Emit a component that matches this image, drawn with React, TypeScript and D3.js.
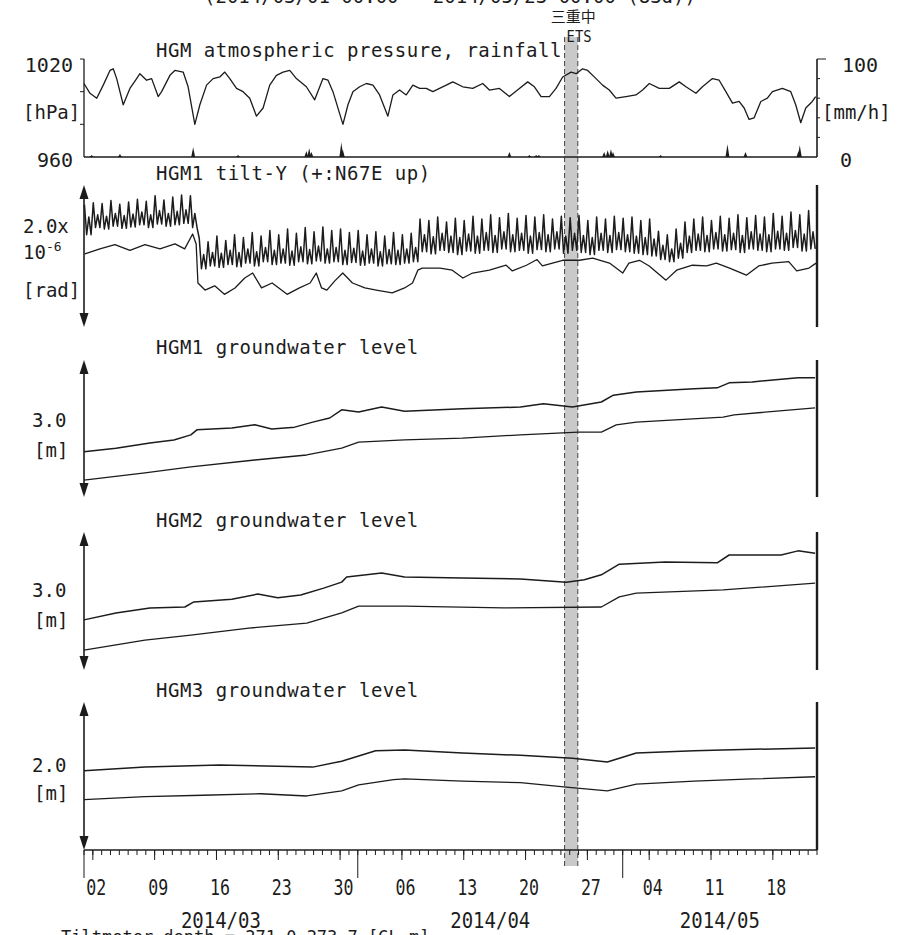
import React from "react";
import * as d3 from "d3";

const START = Date.UTC(2014, 2, 1);
const END = Date.UTC(2014, 4, 23);
const DAY = 86400000;

// ---------- data (day offsets from 2014/03/01 00:00) ----------
const pressureDays = [0, 0.68, 1.44, 2.18, 2.94, 3.31, 3.7, 4.44, 5.2, 5.96, 6.33, 7.09, 7.66, 8.4, 8.79, 9.73, 10.29, 11.23, 11.79, 12.55, 13.12, 13.88, 14.62, 15.38, 15.94, 16.51, 17.27, 18.01, 18.77, 19.53, 20.28, 21.03, 21.79, 22.54, 23.3, 24.05, 25.18, 26.12, 27.06, 27.63, 28.19, 29.32, 29.89, 30.45, 31.21, 31.97, 32.72, 33.47, 34.41, 34.98, 35.73, 36.49, 37.24, 38.0, 38.75, 39.5, 40.26, 41.02, 41.76, 42.89, 44.02, 45.15, 45.91, 47.04, 48.17, 49.3, 50.24, 51.0, 51.76, 52.7, 53.45, 54.2, 55.15, 55.72, 56.46, 57.03, 57.98, 58.72, 59.48, 60.24, 61.37, 62.5, 63.25, 64.01, 65.14, 66.27, 67.4, 68.16, 69.29, 70.03, 71.16, 71.92, 72.68, 73.43, 74.18, 74.75, 75.31, 75.88, 76.64, 77.38, 77.95, 79.08, 80.03, 80.59, 81.16, 81.73, 82.47, 82.85];
const pressureHPa = [1005, 999, 996, 1004, 1013, 1014, 1008, 992, 1002, 1008, 1011, 1007, 1008, 997, 1000, 1010, 1013, 1012, 1003, 980, 992, 1004, 1008, 1009, 1012, 1008, 1002, 1000, 996, 985, 990, 1004, 1010, 1012, 1013, 1008, 1003, 995, 1008, 1007, 1000, 980, 992, 1000, 1003, 1005, 1004, 998, 985, 998, 1001, 998, 1004, 1002, 1002, 1000, 1002, 1004, 1006, 1003, 1002, 1005, 1001, 1002, 997, 1002, 1006, 1003, 997, 997, 1002, 1009, 1012, 1011, 1014, 1013, 1008, 1004, 1001, 996, 997, 998, 1001, 1005, 1002, 1002, 1006, 1003, 999, 1003, 1008, 1007, 1000, 993, 994, 990, 983, 984, 994, 996, 1000, 1002, 1000, 992, 981, 990, 994, 997];

const rainDays = [0.87, 4.07, 12.36, 17.45, 25.18, 25.5, 25.75, 29.14, 29.3, 48.17, 50.43, 51.2, 51.5, 58.9, 59.3, 59.67, 59.9, 65.3, 72.86, 74.9, 80.9, 81.05];
const rainMmH = [2, 3, 10, 2, 6, 9, 5, 15, 8, 5, 2, 2, 2, 5, 7, 8, 5, 2, 13, 5, 6, 12];

// tilt-Y raw trace: per-day main peak / trough / secondary peak (x10^-6 rad, relative)
const tiltHigh = [1.72, 1.75, 1.74, 1.78, 1.73, 1.76, 1.8, 1.77, 1.85, 1.79, 1.83, 1.86, 1.85,
  1.25, 1.2, 1.28, 1.22, 1.3, 1.26, 1.33, 1.28, 1.36, 1.3, 1.38, 1.32, 1.4, 1.34, 1.41, 1.36, 1.38, 1.33, 1.36, 1.3, 1.34, 1.28, 1.33, 1.3, 1.32,
  1.52, 1.5, 1.55, 1.48, 1.53, 1.5, 1.56, 1.52, 1.58, 1.54, 1.6, 1.53, 1.57, 1.55, 1.58, 1.52, 1.56, 1.54, 1.57, 1.5, 1.55, 1.52, 1.56, 1.53, 1.55, 1.5, 1.52,
  1.35, 1.3, 1.38,
  1.48, 1.52, 1.55, 1.5, 1.56, 1.53, 1.58, 1.54, 1.57, 1.55, 1.6, 1.56, 1.62, 1.58, 1.64];
const tiltLow = [1.3, 1.4, 1.38, 1.42, 1.39, 1.41, 1.44, 1.4, 1.45, 1.42, 1.44, 1.46, 1.4,
  0.82, 0.86, 0.84, 0.88, 0.85, 0.9, 0.86, 0.92, 0.88, 0.9, 0.87, 0.92, 0.89, 0.93, 0.9, 0.92, 0.88, 0.91, 0.87, 0.9, 0.86, 0.89, 0.88, 0.9, 0.92,
  1.06, 1.03, 1.08, 1.05, 1.02, 1.07, 1.04, 1.08, 1.05, 1.1, 1.06, 1.08, 1.04, 1.09, 1.06, 1.1, 1.04, 1.08, 1.05, 1.02, 1.08, 1.05, 1.09, 1.06, 1.04, 1.02, 1.0,
  0.95, 0.92, 0.97,
  1.05, 1.08, 1.06, 1.1, 1.07, 1.09, 1.05, 1.1, 1.08, 1.06, 1.1, 1.08, 1.12, 1.07, 1.1];
const tiltMid = [1.55, 1.58, 1.56, 1.6, 1.57, 1.59, 1.62, 1.58, 1.64, 1.6, 1.63, 1.65, 1.6,
  1.02, 1.05, 1.04, 1.08, 1.05, 1.1, 1.06, 1.12, 1.08, 1.1, 1.07, 1.13, 1.09, 1.14, 1.1, 1.12, 1.08, 1.11, 1.07, 1.1, 1.06, 1.09, 1.08, 1.1, 1.12,
  1.3, 1.27, 1.32, 1.28, 1.26, 1.31, 1.28, 1.33, 1.29, 1.34, 1.3, 1.32, 1.28, 1.33, 1.3, 1.34, 1.28, 1.32, 1.29, 1.26, 1.32, 1.29, 1.33, 1.3, 1.28, 1.26, 1.24,
  1.15, 1.1, 1.18,
  1.28, 1.31, 1.29, 1.33, 1.3, 1.32, 1.29, 1.34, 1.31, 1.3, 1.35, 1.32, 1.36, 1.31, 1.34];

// tilt-Y corrected trace
const tiltCorrDays = [0.1, 1.8, 3.5, 5.2, 6.9, 8.6, 10.3, 11.4, 12.3, 12.7, 12.9, 13.7, 14.8, 15.9, 17.1, 18.2, 19.1, 20.1, 21.3, 23.0, 24.4, 25.6, 26.3, 26.9, 27.5, 28.4, 29.3, 30.4, 31.8, 33.1, 34.9, 36.3, 37.2, 37.8, 38.3, 40.3, 41.7, 42.9, 44.0, 45.9, 47.8, 48.5, 50.1, 51.3, 51.9, 54.2, 56.1, 57.6, 59.5, 61.0, 61.7, 62.9, 64.0, 65.9, 67.1, 68.9, 70.5, 71.6, 73.1, 75.0, 76.4, 77.9, 79.8, 80.7, 82.1, 82.9];
const tiltCorrVals = [1.03, 1.1, 1.16, 1.08, 1.16, 1.1, 1.17, 1.1, 1.31, 1.17, 0.62, 0.52, 0.58, 0.46, 0.55, 0.69, 0.76, 0.55, 0.62, 0.46, 0.55, 0.62, 0.76, 0.55, 0.52, 0.65, 0.76, 0.62, 0.55, 0.52, 0.48, 0.55, 0.62, 0.8, 0.83, 0.83, 0.8, 0.69, 0.76, 0.8, 0.87, 0.79, 0.87, 0.95, 0.86, 0.94, 0.94, 0.97, 0.9, 0.76, 0.9, 0.94, 0.86, 0.66, 0.8, 0.87, 0.86, 0.9, 0.83, 0.73, 0.86, 0.9, 0.92, 0.79, 0.83, 0.9];

// groundwater levels [m, relative]
const gw1RawDays = [0, 3.62, 7.46, 10.18, 12.1, 12.78, 16.74, 19.34, 21.26, 23.86, 25.9, 27.82, 29.18, 31.1, 33.7, 36.3, 42.86, 49.42, 52.02, 55.3, 58.58, 59.94, 62.54, 69.09, 71.7, 73.05, 75.65, 80.85, 82.78];
const gw1RawVals = [0.99, 1.07, 1.18, 1.25, 1.36, 1.47, 1.51, 1.58, 1.49, 1.53, 1.64, 1.73, 1.91, 1.86, 1.97, 1.88, 1.93, 1.97, 2.04, 1.97, 2.08, 2.23, 2.3, 2.37, 2.39, 2.5, 2.52, 2.61, 2.61];
const gw1CorrDays = [0, 6.9, 12.1, 19.34, 25.22, 29.18, 31.1, 36.3, 42.86, 49.42, 55.98, 58.58, 60.27, 62.54, 72.37, 73.62, 82.78];
const gw1CorrVals = [0.37, 0.53, 0.66, 0.81, 0.92, 1.07, 1.2, 1.25, 1.29, 1.36, 1.42, 1.42, 1.58, 1.64, 1.75, 1.8, 1.95];

const gw2RawDays = [0, 3.62, 7.46, 11.42, 12.44, 16.74, 19.68, 21.94, 24.54, 27.14, 29.18, 29.74, 33.7, 36.3, 42.86, 49.42, 54.62, 56.66, 58.58, 60.61, 65.82, 71.7, 73.05, 78.93, 80.85, 82.78];
const gw2RawVals = [1.09, 1.24, 1.35, 1.37, 1.48, 1.54, 1.65, 1.57, 1.63, 1.78, 1.91, 2.02, 2.11, 2.02, 2.0, 1.98, 1.91, 1.96, 2.07, 2.3, 2.35, 2.33, 2.5, 2.5, 2.59, 2.54];
const gw2CorrDays = [0, 6.9, 12.1, 18.66, 25.22, 29.18, 31.1, 36.3, 47.5, 58.58, 60.61, 62.54, 72.37, 82.78];
const gw2CorrVals = [0.43, 0.65, 0.76, 0.91, 1.02, 1.24, 1.39, 1.39, 1.35, 1.37, 1.59, 1.67, 1.74, 1.89];

const gw3RawDays = [0, 6.9, 15.38, 25.9, 29.18, 33.02, 36.3, 42.86, 49.42, 55.3, 59.26, 62.54, 69.09, 75.65, 82.78];
const gw3RawVals = [1.07, 1.12, 1.15, 1.12, 1.2, 1.34, 1.35, 1.31, 1.28, 1.24, 1.19, 1.31, 1.34, 1.36, 1.38];
const gw3CorrDays = [0, 6.9, 13.46, 20.02, 25.22, 29.18, 31.1, 35.06, 36.3, 42.86, 49.42, 54.62, 59.26, 62.54, 69.09, 75.65, 82.78];
const gw3CorrVals = [0.68, 0.72, 0.74, 0.76, 0.73, 0.8, 0.88, 0.95, 0.96, 0.93, 0.91, 0.85, 0.8, 0.89, 0.93, 0.96, 0.99];

const panelTitles = ["HGM1 tilt-Y (+:N67E up)", "HGM1 groundwater level", "HGM2 groundwater level", "HGM3 groundwater level"];
const panelScales = [2.0, 3.0, 3.0, 2.0];

const etsStart = Date.UTC(2014, 3, 24, 10);
const etsEnd = Date.UTC(2014, 3, 25, 22);

// ---------- layout ----------
const W = 908, H = 935;
const X0 = 84, X1 = 817;
const INK = "#1c1c1c";
const MONO = "'DejaVu Sans Mono', monospace";

const toDate = (d: number) => new Date(START + d * DAY);

export default function App() {
  const x = d3.scaleUtc().domain([new Date(START), new Date(END)]).range([X0, X1]);

  // top panel
  const topY0 = 59, topY1 = 157;
  const yP = d3.scaleLinear().domain([960, 1020]).range([topY1, topY0]);
  const yR = d3.scaleLinear().domain([0, 100]).range([topY1, topY0]);
  const pLine = d3.line<[number, number]>().x(d => x(toDate(d[0]))).y(d => yP(d[1]));
  const pressurePath = pLine(pressureDays.map((d, i) => [d, pressureHPa[i]] as [number, number])) || "";
  const rainArea = d3.area<[number, number]>().x(d => x(toDate(d[0]))).y0(topY1).y1(d => yR(d[1]));

  // sub panels
  const panels = [
    { top: 185, bot: 327 },
    { top: 360, bot: 497 },
    { top: 532, bot: 670 },
    { top: 702, bot: 850 },
  ];
  const tiltRaw: [number, number][] = tiltHigh.flatMap((h, i) => [
    [i + 0.05, h], [i + 0.3, tiltLow[i]], [i + 0.55, tiltMid[i]], [i + 0.8, tiltLow[i]],
  ] as [number, number][]);
  const series: [number, number][][][] = [
    [tiltRaw, tiltCorrDays.map((d, i) => [d, tiltCorrVals[i]] as [number, number])],
    [
      gw1RawDays.map((d, i) => [d, gw1RawVals[i]] as [number, number]),
      gw1CorrDays.map((d, i) => [d, gw1CorrVals[i]] as [number, number]),
    ],
    [
      gw2RawDays.map((d, i) => [d, gw2RawVals[i]] as [number, number]),
      gw2CorrDays.map((d, i) => [d, gw2CorrVals[i]] as [number, number]),
    ],
    [
      gw3RawDays.map((d, i) => [d, gw3RawVals[i]] as [number, number]),
      gw3CorrDays.map((d, i) => [d, gw3CorrVals[i]] as [number, number]),
    ],
  ];
  const titleBase = [180, 354, 527, 697];

  // x-axis ticks
  const axisY = 850;
  const days = d3.utcDay.range(new Date(START), new Date(END + 1));
  const weeks = d3.utcSunday.range(new Date(START), new Date(END));
  const months = d3.utcMonth.range(new Date(START), new Date(END));
  const etsX0 = x(new Date(etsStart)), etsX1 = x(new Date(etsEnd));

  const arrow = (cx: number, y0: number, y1: number, key: string) => (
    <g key={key}>
      <line x1={cx} x2={cx} y1={y0 + 8} y2={y1 - 8} stroke={INK} strokeWidth={1.6} />
      <path d={`M${cx},${y0} L${cx - 4.5},${y0 + 14} L${cx + 4.5},${y0 + 14} Z`} fill={INK} />
      <path d={`M${cx},${y1} L${cx - 4.5},${y1 - 14} L${cx + 4.5},${y1 - 14} Z`} fill={INK} />
    </g>
  );

  const leftLabels: { t: string; y: number; sup?: string }[][] = [
    [{ t: "2.0x", y: 233 }, { t: "10", y: 259, sup: "-6" }, { t: "[rad]", y: 297 }],
    [{ t: "3.0", y: 427 }, { t: "[m]", y: 457 }],
    [{ t: "3.0", y: 597 }, { t: "[m]", y: 627 }],
    [{ t: "2.0", y: 772 }, { t: "[m]", y: 800 }],
  ];

  return (
    <svg width={W} height={H} viewBox={`0 0 ${W} ${H}`}
      style={{ position: "absolute", left: 0, top: 0, background: "#fff", display: "block" }}
      fontFamily={MONO}>
      <rect width={W} height={H} fill="#fff" />

      {/* period title (cut at top) */}
      <text x={450} y={3} textAnchor="middle" fontSize={19} fill={INK}>(2014/03/01 00:00 - 2014/05/23 00:00 (83d))</text>

      {/* ETS band */}
      <rect x={etsX0} y={37} width={etsX1 - etsX0} height={866 - 37} fill="#c9c9c9" />
      <line x1={etsX0} x2={etsX0} y1={37} y2={866} stroke="#444" strokeWidth={1} strokeDasharray="5,3" />
      <line x1={etsX1} x2={etsX1} y1={37} y2={866} stroke="#444" strokeWidth={1} strokeDasharray="5,3" />
      <text x={(etsX0 + etsX1) / 2 + 2} y={22} textAnchor="middle" fontSize={15} fontFamily="'Noto Sans CJK JP', sans-serif" fill={INK}>三重中</text>
      <text x={etsX0 + 2} y={42} fontSize={16} textLength={25} lengthAdjust="spacingAndGlyphs" fill={INK}>ETS</text>

      {/* top panel */}
      <text x={156} y={57} fontSize={19} letterSpacing={0.5} fill={INK}>HGM atmospheric pressure, rainfall</text>
      <line x1={X0} x2={X0} y1={topY0} y2={topY1} stroke={INK} strokeWidth={1.3} />
      {[1020, 1000, 980].map(v => (
        <line key={v} x1={X0 - 4} x2={X0} y1={yP(v)} y2={yP(v)} stroke={INK} strokeWidth={1} />
      ))}
      <line x1={X1} x2={X1} y1={topY0} y2={topY1} stroke={INK} strokeWidth={1.6} />
      {[20, 40, 60, 80].map(v => (
        <line key={v} x1={X1} x2={X1 + 3} y1={yR(v)} y2={yR(v)} stroke={INK} strokeWidth={1} />
      ))}
      <line x1={X1} x2={X1 + 9} y1={yR(100)} y2={yR(100)} stroke={INK} strokeWidth={1} />
      <line x1={X0} x2={X1} y1={topY1} y2={topY1} stroke={INK} strokeWidth={1.3} />
      {rainDays.map((d, i) => (
        <path key={i} d={rainArea([[d - 0.22, 0], [d, rainMmH[i]], [d + 0.22, 0]]) || ""} fill={INK} />
      ))}
      <path d={pressurePath} fill="none" stroke={INK} strokeWidth={1.3} strokeLinejoin="round" />
      <text x={73} y={72} textAnchor="end" fontSize={20} fill={INK}>1020</text>
      <text x={23} y={119} fontSize={19} fill={INK}>[hPa]</text>
      <text x={73} y={167} textAnchor="end" fontSize={20} fill={INK}>960</text>
      <text x={842} y={72} fontSize={20} fill={INK}>100</text>
      <text x={822} y={119} fontSize={19} fill={INK}>[mm/h]</text>
      <text x={840} y={167} fontSize={20} fill={INK}>0</text>

      {/* sub panels */}
      {panels.map((p, k) => {
        const y = d3.scaleLinear().domain([0, panelScales[k]]).range([p.bot, p.top]);
        const line = d3.line<[number, number]>().x(d => x(toDate(d[0]))).y(d => y(d[1]));
        return (
          <g key={k}>
            <text x={156} y={titleBase[k]} fontSize={19} letterSpacing={0.5} fill={INK}>{panelTitles[k]}</text>
            {arrow(X0, p.top, p.bot, "a" + k)}
            <line x1={X1} x2={X1} y1={p.top} y2={p.bot} stroke={INK} strokeWidth={2.4} />
            {series[k].map((s, j) => (
              <path key={j} d={line(s) || ""} fill="none" stroke={INK}
                strokeWidth={k === 0 && j === 0 ? 1.5 : j === 0 ? 1.5 : 1.3} strokeLinejoin="round" />
            ))}
            {leftLabels[k].map((l, i) => (
              <text key={i} x={l.t.length >= 4 || l.sup ? 23 : (l.t === "[m]" ? 34 : 32)} y={l.y} fontSize={19} fill={INK}>
                {l.t}{l.sup ? <tspan dy={-8} fontSize={13}>{l.sup}</tspan> : null}
              </text>
            ))}
          </g>
        );
      })}

      {/* x axis */}
      <line x1={X0} x2={X1} y1={axisY} y2={axisY} stroke={INK} strokeWidth={1.5} />
      {days.map((d, i) => (
        <line key={"d" + i} x1={x(d)} x2={x(d)} y1={axisY} y2={axisY + 5} stroke={INK} strokeWidth={1} />
      ))}
      {weeks.map((d, i) => (
        <g key={"w" + i}>
          <line x1={x(d)} x2={x(d)} y1={axisY} y2={axisY + 10} stroke={INK} strokeWidth={1} />
          <text x={x(d) + 3.5 - 10} y={895} fontSize={21} textLength={20} lengthAdjust="spacingAndGlyphs" fill={INK}>{d3.utcFormat("%d")(d)}</text>
        </g>
      ))}
      {months.map((m, i) => {
        const next = d3.utcMonth.offset(m, 1);
        const a = Math.max(+m, START), b = Math.min(+next, END);
        return (
          <g key={"m" + i}>
            <line x1={x(m)} x2={x(m)} y1={axisY} y2={axisY + 28} stroke={INK} strokeWidth={1} />
            <text x={x(new Date((a + b) / 2)) - 40} y={928} fontSize={22} textLength={80} lengthAdjust="spacingAndGlyphs" fill={INK}>{d3.utcFormat("%Y/%m")(m)}</text>
          </g>
        );
      })}

      <text x={61} y={943} fontSize={17} fill={INK}>Tiltmeter depth = 271.0-273.7 [GL-m]</text>
    </svg>
  );
}
